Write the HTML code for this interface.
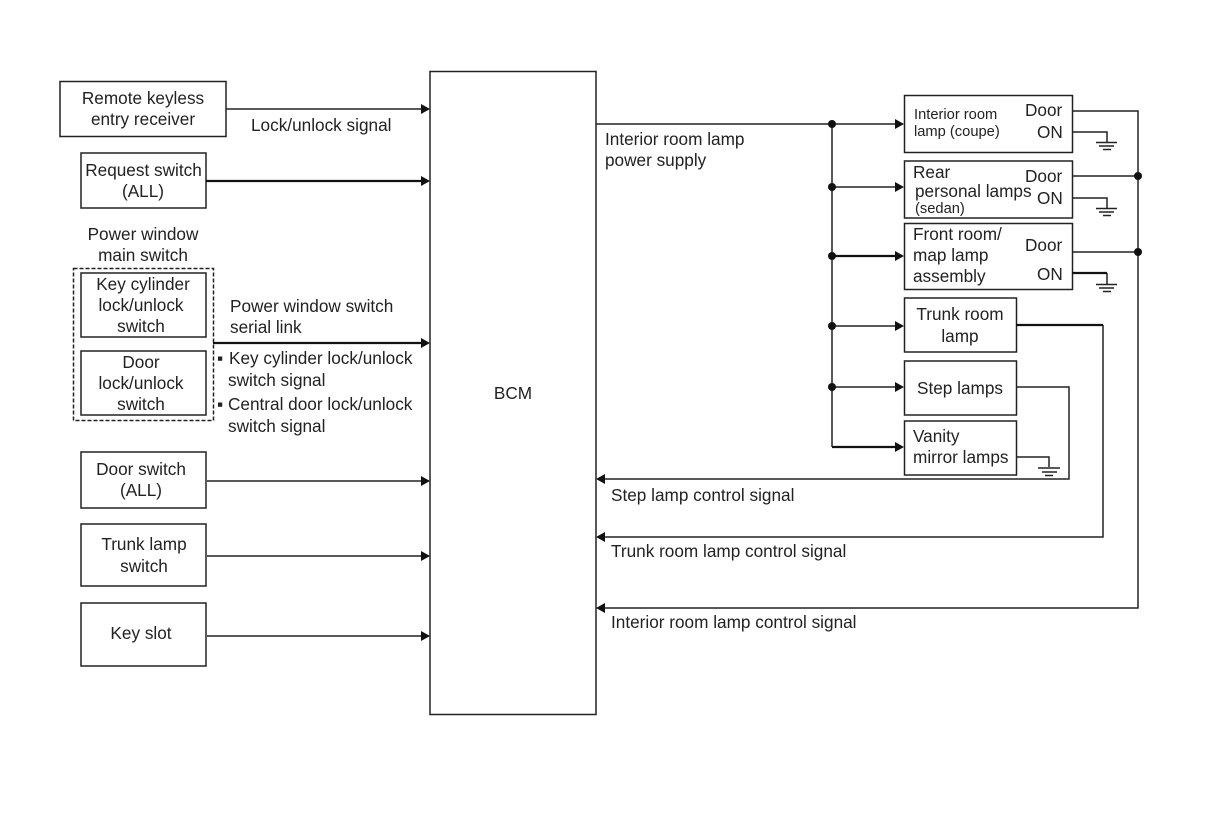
<!DOCTYPE html>
<html>
<head>
<meta charset="utf-8">
<style>
html,body{margin:0;padding:0;background:#fff;width:1216px;height:822px;overflow:hidden}
svg{display:block}
text{font-family:"Liberation Sans",sans-serif;font-size:17.2px;fill:#222}
.s{font-size:14.700px}
.b{fill:#fff;stroke:#222;stroke-width:1.5}
.l{fill:none;stroke:#222;stroke-width:1.5}
.t{fill:none;stroke:#111;stroke-width:2.2}
.a{fill:#111;stroke:none}
.m{text-anchor:middle}
</style>
</head>
<body>
<svg width="1216" height="822" viewBox="0 0 1216 822" xmlns="http://www.w3.org/2000/svg">
<rect class="b" x="60" y="81.500" width="166" height="55"/>
<rect class="b" x="81" y="153" width="125" height="55"/>
<rect x="73.500" y="268.500" width="140" height="152" fill="none" stroke="#222" stroke-width="1.500" stroke-dasharray="4 2"/>
<rect class="b" x="81" y="273" width="125" height="64"/>
<rect class="b" x="81" y="351" width="125" height="64"/>
<rect class="b" x="81" y="452" width="125" height="56"/>
<rect class="b" x="81" y="524" width="125" height="62"/>
<rect class="b" x="81" y="603" width="125" height="63"/>
<rect class="b" x="430" y="71.500" width="166" height="643"/>
<rect class="b" x="904.500" y="95.500" width="168" height="57"/>
<rect class="b" x="904.500" y="161" width="168" height="57"/>
<rect class="b" x="904.500" y="223.500" width="168" height="66"/>
<rect class="b" x="904.500" y="298" width="112" height="54"/>
<rect class="b" x="904.500" y="361" width="112" height="54"/>
<rect class="b" x="904.500" y="421" width="112" height="54"/>

<path class="l" d="M226 109H422M207 481H422M207 556H422M207 636H422"/>
<path class="t" d="M206 181H422M213 343H422"/>
<path class="a" d="M421 104l9 5-9 5zM421 176l9 5-9 5zM421 338l9 5-9 5zM421 476l9 5-9 5zM421 551l9 5-9 5zM421 631l9 5-9 5z"/>

<path class="l" d="M596 124H896M832 124V447M832 187H896M832 326H896M832 387H896"/>
<path class="t" d="M832 256H896M832 447H896"/>
<path class="a" d="M895 119l9 5-9 5zM895 182l9 5-9 5zM895 251l9 5-9 5zM895 321l9 5-9 5zM895 382l9 5-9 5zM895 442l9 5-9 5z"/>
<circle class="a" cx="832" cy="124" r="4"/><circle class="a" cx="832" cy="187" r="4"/><circle class="a" cx="832" cy="256" r="4"/><circle class="a" cx="832" cy="326" r="4"/><circle class="a" cx="832" cy="387" r="4"/>

<path class="l" d="M1072 111H1138V608H604M1072 176H1138M1072 252H1138"/>
<circle class="a" cx="1138" cy="176" r="4"/><circle class="a" cx="1138" cy="252" r="4"/>
<path class="l" d="M1016 387H1069V479H604M1103 325V537H604"/>
<path class="t" d="M1016 325H1103"/>
<path class="a" d="M605 474l-9 5 9 5zM605 532l-9 5 9 5zM605 603l-9 5 9 5z"/>

<path class="l" d="M1072 132H1107V142M1096 142.500H1117M1099 146H1114M1103 149.500H1111"/>
<path class="l" d="M1072 198H1107V208M1096 208.500H1117M1099 212H1114M1103 215.500H1111"/>
<path class="l" d="M1107 273V284M1096 284.500H1117M1099 288H1114M1103 291.500H1111"/>
<path class="t" d="M1072 273H1107"/>
<path class="l" d="M1016 457H1049V467M1038 468H1060M1042 472H1057M1045 475.500H1053"/>

<text class="m" x="143" y="104">Remote keyless</text>
<text class="m" x="143" y="125">entry receiver</text>
<text x="251" y="131">Lock/unlock signal</text>
<text class="m" x="143.500" y="176">Request switch</text>
<text class="m" x="143" y="197">(ALL)</text>
<text class="m" x="143" y="240">Power window</text>
<text class="m" x="143" y="261">main switch</text>
<text class="m" x="143" y="290">Key cylinder</text>
<text class="m" x="141" y="311">lock/unlock</text>
<text class="m" x="141" y="332">switch</text>
<text class="m" x="141" y="368">Door</text>
<text class="m" x="141" y="389">lock/unlock</text>
<text class="m" x="141" y="410">switch</text>
<text x="230" y="312">Power window switch</text>
<text x="230" y="333">serial link</text>
<text x="217" y="364">▪</text>
<text x="229" y="364">Key cylinder lock/unlock</text>
<text x="228" y="386">switch signal</text>
<text x="217" y="410">▪</text>
<text x="228" y="410">Central door lock/unlock</text>
<text x="228" y="432">switch signal</text>
<text class="m" x="141" y="475">Door switch</text>
<text class="m" x="141" y="496">(ALL)</text>
<text class="m" x="144" y="550">Trunk lamp</text>
<text class="m" x="144" y="572">switch</text>
<text class="m" x="141" y="639">Key slot</text>
<text class="m" x="513" y="399">BCM</text>
<text x="605" y="145">Interior room lamp</text>
<text x="605" y="166">power supply</text>
<text class="s" x="914" y="119">Interior room</text>
<text class="s" x="914" y="136">lamp (coupe)</text>
<text x="1025" y="116">Door</text>
<text x="1037" y="138">ON</text>
<text x="913" y="178">Rear</text>
<text x="915" y="197">personal lamps</text>
<text class="s" x="915" y="213">(sedan)</text>
<text x="1025" y="182">Door</text>
<text x="1037" y="204">ON</text>
<text x="913" y="240">Front room/</text>
<text x="913" y="261">map lamp</text>
<text x="913" y="282">assembly</text>
<text x="1025" y="251">Door</text>
<text x="1037" y="280">ON</text>
<text class="m" x="960" y="320">Trunk room</text>
<text class="m" x="960" y="342">lamp</text>
<text class="m" x="960" y="394">Step lamps</text>
<text x="913" y="442">Vanity</text>
<text x="913" y="463">mirror lamps</text>
<text x="611" y="501">Step lamp control signal</text>
<text x="611" y="557">Trunk room lamp control signal</text>
<text x="611" y="628">Interior room lamp control signal</text>
</svg>
</body>
</html>
